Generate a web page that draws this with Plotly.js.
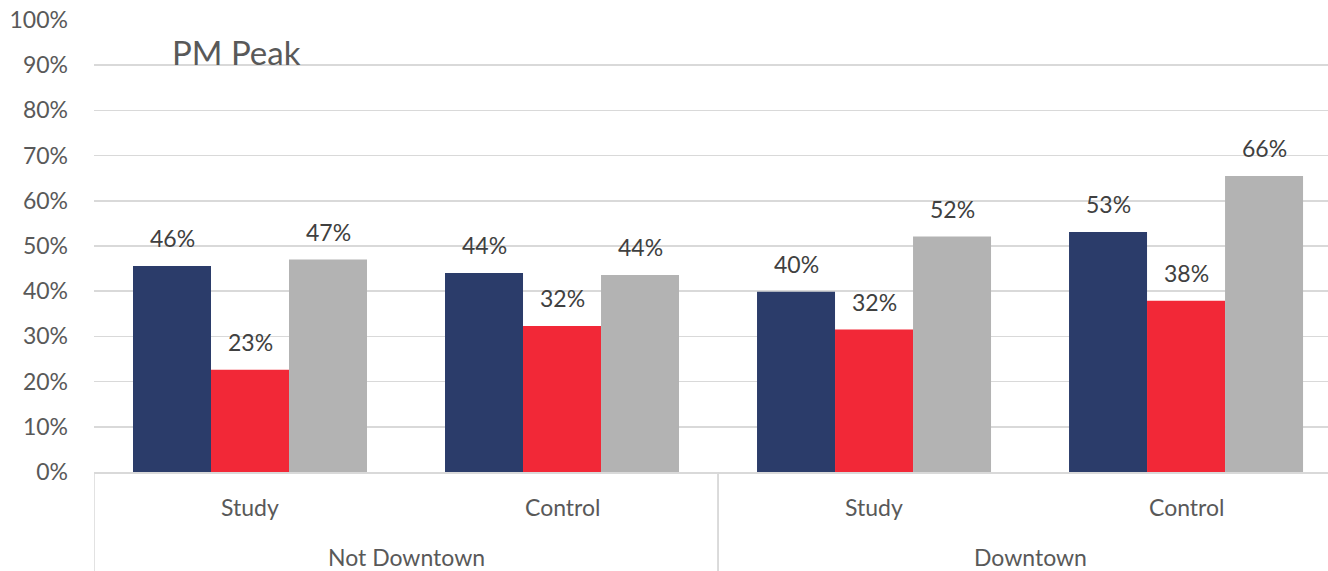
<!DOCTYPE html>
<html>
<head>
<meta charset="utf-8">
<script src="https://cdn.plot.ly/plotly-3.0.1.min.js"></script>
<style>html,body{margin:0;padding:0;background:#fff;}#chart{width:1328px;height:571px;}</style>
</head>
<body>
<div id="chart"></div>
<script>
const outerCats = ["Not Downtown", "Not Downtown", "Downtown", "Downtown"];
const innerCats = ["Study", "Control", "Study", "Control"];
const seriesA = [0.456, 0.440, 0.399, 0.531];
const seriesB = [0.226, 0.323, 0.315, 0.379];
const seriesC = [0.470, 0.436, 0.521, 0.655];
const chartTitle = "PM Peak";
const colors = ["#2B3C6A", "#F22837", "#B3B3B3"];
const allSeries = [seriesA, seriesB, seriesC];

const fontFam = "Lato, 'Open Sans', sans-serif";
const PLOT_TOP = 20, PLOT_BOTTOM = 472, PLOT_H = PLOT_BOTTOM - PLOT_TOP;
const pyToPaper = py => (PLOT_BOTTOM - py) / PLOT_H;

const traces = allSeries.map((s, k) => ({
  type: "bar",
  x: [outerCats, innerCats],
  y: s,
  marker: {color: colors[k], line: {width: 0}},
  hoverinfo: "skip"
}));

const offsets = [-0.25, 0, 0.25];
const annotations = [];
allSeries.forEach((s, k) => {
  s.forEach((v, i) => {
    annotations.push({
      x: i + offsets[k], y: v, xref: "x", yref: "y",
      text: Math.round(v * 100) + "%",
      showarrow: false, yanchor: "bottom", yshift: 12,
      font: {family: fontFam, size: 23, color: "#404040"}
    });
  });
});
// inner category labels
innerCats.forEach((c, i) => {
  annotations.push({
    x: i, y: pyToPaper(507), xref: "x", yref: "paper",
    text: c, showarrow: false, yanchor: "middle",
    font: {family: fontFam, size: 23, color: "#595959"}
  });
});
// outer category labels + dividers
const shapes = [];
const groups = [];
outerCats.forEach((c, i) => {
  if (!groups.length || groups[groups.length - 1].name !== c) groups.push({name: c, start: i, end: i});
  else groups[groups.length - 1].end = i;
});
groups.forEach(g => {
  annotations.push({
    x: (g.start + g.end) / 2, y: pyToPaper(557), xref: "x", yref: "paper",
    text: g.name, showarrow: false, yanchor: "middle",
    font: {family: fontFam, size: 23, color: "#595959"}
  });
  [g.start - 0.5, g.end + 0.5].forEach(xb => {
    shapes.push({
      type: "line", xref: "x", yref: "paper",
      x0: xb, x1: xb, y0: 0, y1: pyToPaper(575),
      line: {color: "#D9D9D9", width: 1.5}
    });
  });
});
annotations.push({
  x: (170 - 94) / 1234, y: pyToPaper(52), xref: "paper", yref: "paper",
  xanchor: "left", yanchor: "middle",
  text: chartTitle, showarrow: false,
  font: {family: fontFam, size: 33, color: "#595959"}
});

const layout = {
  width: 1328, height: 571,
  margin: {l: 94, r: 0, t: PLOT_TOP, b: 571 - PLOT_BOTTOM},
  paper_bgcolor: "#fff", plot_bgcolor: "#fff",
  barmode: "group", bargap: 0.25, bargroupgap: 0,
  showlegend: false,
  font: {family: fontFam, size: 22, color: "#595959"},
  xaxis: {
    type: "multicategory",
    range: [-0.5, 3.455],
    showline: true, linecolor: "#D9D9D9", linewidth: 1.5,
    showgrid: false, ticks: "", showticklabels: false
  },
  yaxis: {
    range: [0, 1], dtick: 0.1, tickformat: ".0%",
    showgrid: true, gridcolor: "#D9D9D9", gridwidth: 1.5,
    zeroline: false, showline: false, ticks: "",
    ticklabelstandoff: 25,
    tickfont: {family: fontFam, size: 23, color: "#595959"}
  },
  annotations: annotations,
  shapes: shapes
};
Plotly.newPlot("chart", traces, layout, {displayModeBar: false, staticPlot: true});
</script>
</body>
</html>
